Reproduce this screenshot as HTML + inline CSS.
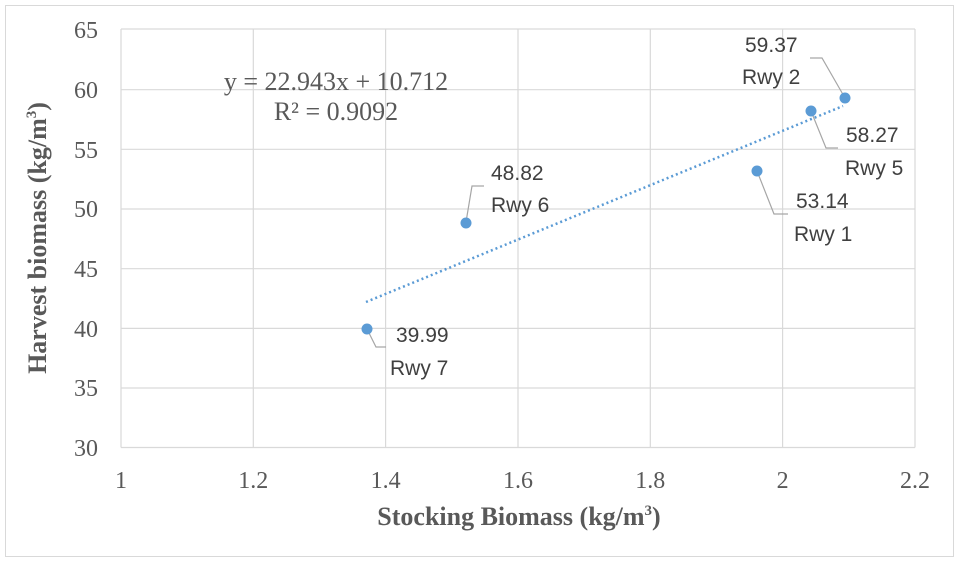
<!DOCTYPE html>
<html><head><meta charset="utf-8"><style>body{margin:0;background:#fff}svg{display:block}</style></head><body>
<svg width="960" height="563" xmlns="http://www.w3.org/2000/svg">
<rect x="0" y="0" width="960" height="563" fill="#fff"/>
<rect x="5.5" y="5.5" width="948" height="551" fill="none" stroke="#d9d9d9" stroke-width="1"/>
<g stroke="#d9d9d9" stroke-width="1.2">
<line x1="121" y1="29" x2="915" y2="29"/><line x1="121" y1="89.7" x2="915" y2="89.7"/><line x1="121" y1="149.3" x2="915" y2="149.3"/><line x1="121" y1="209" x2="915" y2="209"/><line x1="121" y1="268.7" x2="915" y2="268.7"/><line x1="121" y1="328.4" x2="915" y2="328.4"/><line x1="121" y1="388" x2="915" y2="388"/><line x1="121" y1="447.5" x2="915" y2="447.5"/>
<line x1="121" y1="29" x2="121" y2="447.5"/><line x1="253.3" y1="29" x2="253.3" y2="447.5"/><line x1="385.6" y1="29" x2="385.6" y2="447.5"/><line x1="518" y1="29" x2="518" y2="447.5"/><line x1="650.3" y1="29" x2="650.3" y2="447.5"/><line x1="782.6" y1="29" x2="782.6" y2="447.5"/><line x1="915" y1="29" x2="915" y2="447.5"/>
</g>
<g font-family="Liberation Serif, serif" font-size="24" fill="#595959" text-anchor="end">
<text x="98" y="38">65</text><text x="98" y="98">60</text><text x="98" y="158">55</text><text x="98" y="217">50</text><text x="98" y="277">45</text><text x="98" y="337">40</text><text x="98" y="396">35</text><text x="98" y="456">30</text>
</g>
<g font-family="Liberation Serif, serif" font-size="24" fill="#595959" text-anchor="middle">
<text x="121" y="488">1</text><text x="253.3" y="488">1.2</text><text x="385.6" y="488">1.4</text><text x="518" y="488">1.6</text><text x="650.3" y="488">1.8</text><text x="782.6" y="488">2</text><text x="915" y="488">2.2</text>
</g>
<text x="519" y="525" font-family="Liberation Serif, serif" font-size="26" font-weight="bold" fill="#595959" text-anchor="middle">Stocking Biomass (kg/m<tspan font-size="15" dy="-10">3</tspan><tspan dy="10">)</tspan></text>
<text transform="translate(46,238) rotate(-90)" font-family="Liberation Serif, serif" font-size="26" font-weight="bold" fill="#595959" text-anchor="middle">Harvest biomass (kg/m<tspan font-size="15" dy="-10">3</tspan><tspan dy="10">)</tspan></text>
<g font-family="Liberation Serif, serif" font-size="26" fill="#595959" text-anchor="middle">
<text x="336" y="90">y = 22.943x + 10.712</text><text x="336" y="120">R² = 0.9092</text>
</g>
<line x1="366" y1="302" x2="843" y2="106" stroke="#5b9bd5" stroke-width="2.5" stroke-dasharray="2 3"/>
<g stroke="#a6a6a6" stroke-width="1.2" fill="none">
<polyline points="367,329 376,347 386,347"/>
<polyline points="466,222 472,186 484,186"/>
<polyline points="757,171 774,214 788,214"/>
<polyline points="811,111 826,148 838,148"/>
<polyline points="845,98 822,58 810,58"/>
</g>
<g fill="#5b9bd5">
<circle cx="367" cy="329" r="5.5"/><circle cx="466" cy="223" r="5.5"/><circle cx="757" cy="171" r="5.5"/><circle cx="811" cy="111" r="5.5"/><circle cx="845" cy="98" r="5.5"/>
</g>
<g font-family="Liberation Sans, sans-serif" font-size="21" fill="#404040">
<text x="396" y="342">39.99</text><text x="390" y="375">Rwy 7</text>
<text x="491" y="180">48.82</text><text x="491" y="212">Rwy 6</text>
<text x="796" y="208">53.14</text><text x="794" y="241">Rwy 1</text>
<text x="846" y="142">58.27</text><text x="845" y="175">Rwy 5</text>
<text x="745" y="52">59.37</text><text x="742" y="84">Rwy 2</text>
</g>
</svg>
</body></html>
